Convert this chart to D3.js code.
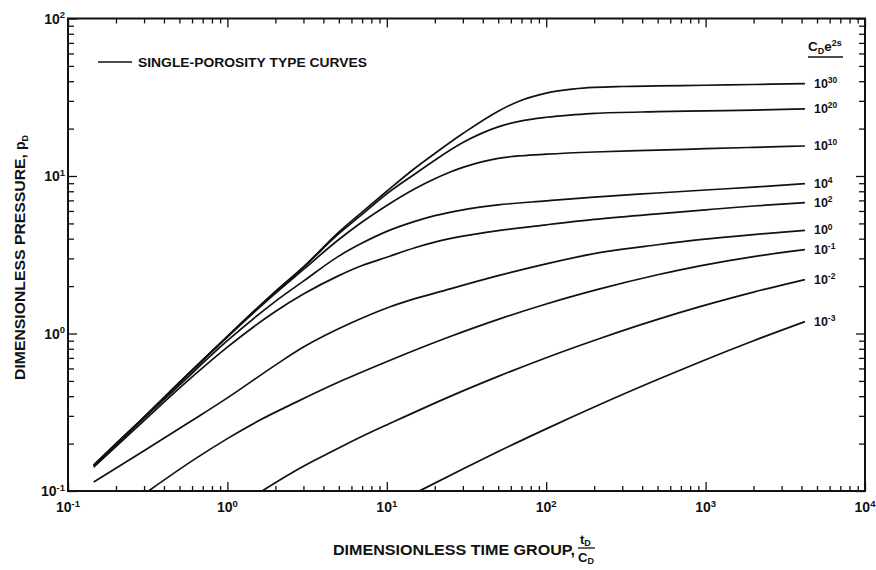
<!DOCTYPE html>
<html><head><meta charset="utf-8">
<script src="https://cdn.jsdelivr.net/npm/d3@7"></script>
<style>
body{margin:0;background:#fff}
svg{display:block}
text{font-family:"Liberation Sans",Arial,Helvetica,sans-serif;font-weight:bold;fill:#111}
</style>
</head><body>
<svg id="chart" width="876" height="570"></svg>
<script>
// ---- data (tD/CD, pD) ----
const curveExponents = ["30","20","10","4","2","0","-1","-2","-3"];
const pD_1e30 = [[0.145,0.146],[0.2,0.2],[0.3,0.295],[0.5,0.49],[1,0.96],[2,1.85],[3,2.65],[5,4.4],[7,5.9],[10,8.0],[15,11.2],[20,13.9],[30,18.6],[50,25.8],[70,30.3],[100,33.6],[150,35.7],[200,36.5],[300,37.0],[500,37.3],[1000,37.7],[2000,38.1],[4200,38.6]];
const pD_1e20 = [[0.145,0.146],[0.2,0.2],[0.3,0.295],[0.5,0.49],[1,0.96],[2,1.84],[3,2.63],[5,4.3],[7,5.7],[10,7.7],[15,10.3],[20,12.6],[30,16.3],[50,20.5],[70,22.4],[100,23.6],[150,24.5],[200,25.0],[500,25.6],[1000,25.9],[2000,26.2],[4200,26.7]];
const pD_1e10 = [[0.145,0.145],[0.3,0.293],[0.5,0.485],[1,0.95],[2,1.8],[3,2.55],[5,3.95],[7,5.1],[10,6.5],[15,8.3],[20,9.6],[25,10.6],[30,11.35],[40,12.35],[50,12.95],[70,13.45],[100,13.75],[200,14.2],[500,14.6],[1000,14.9],[2000,15.2],[4200,15.5]];
const pD_1e4 = [[0.145,0.144],[0.3,0.29],[0.5,0.47],[1,0.9],[2,1.6],[3,2.15],[5,3.1],[7,3.75],[10,4.45],[15,5.15],[20,5.6],[30,6.1],[50,6.55],[100,6.95],[200,7.35],[500,7.8],[1000,8.15],[2000,8.5],[4200,8.94]];
const pD_1e2 = [[0.145,0.142],[0.3,0.28],[0.5,0.45],[1,0.82],[2,1.38],[3,1.78],[5,2.33],[7,2.7],[10,3.05],[15,3.5],[20,3.8],[30,4.15],[50,4.5],[100,4.9],[200,5.3],[500,5.75],[1000,6.1],[2000,6.45],[4200,6.77]];
const pD_1e0 = [[0.145,0.114],[0.3,0.18],[0.6,0.28],[1,0.39],[2,0.63],[3,0.82],[6,1.17],[10.5,1.48],[25,1.92],[50,2.33],[100,2.77],[220,3.27],[500,3.66],[920,3.94],[2000,4.25],[4200,4.52]];
const pD_1em1 = [[0.32,0.1],[0.61,0.157],[1,0.215],[1.6,0.282],[2.72,0.368],[5.33,0.506],[10.5,0.677],[25,0.957],[50,1.23],[100,1.54],[217,1.92],[500,2.36],[922,2.69],[2000,3.08],[4200,3.41]];
const pD_1em2 = [[1.65,0.1],[2.59,0.132],[3.5,0.156],[5.33,0.194],[7.5,0.23],[10.5,0.269],[25,0.399],[50,0.534],[100,0.702],[217,0.93],[500,1.229],[922,1.48],[2000,1.831],[4200,2.2]];
const pD_1em3 = [[16,0.1],[30,0.138],[50,0.178],[100,0.248],[217,0.354],[500,0.51],[922,0.66],[2000,0.9],[4200,1.19]];
const seriesData = [pD_1e30,pD_1e20,pD_1e10,pD_1e4,pD_1e2,pD_1e0,pD_1em1,pD_1em2,pD_1em3];
const xTickExps = [-1,0,1,2,3,4];
const yTickExps = [-1,0,1,2];
const legendLabel = "SINGLE-POROSITY TYPE CURVES";

// ---- layout ----
const X0 = 68, X1 = 865, Y0 = 491, Y1 = 18.5;
const svg = d3.select("#chart");
const x = d3.scaleLog().domain([0.1,1e4]).range([X0,X1]);
const y = d3.scaleLog().domain([0.1,100]).range([Y0,Y1]);

function minorVals(lo, hi){ const v=[]; for(let e=lo;e<hi;e++) for(let k=2;k<=9;k++) v.push(k*Math.pow(10,e)); return v; }
const xMajor = xTickExps.map(e=>Math.pow(10,e));
const yMajor = yTickExps.map(e=>Math.pow(10,e));
const xMinor = minorVals(-1,4), yMinor = minorVals(-1,2);

function styleAxis(g){ g.select(".domain").remove(); g.selectAll("line").attr("stroke","#111").attr("stroke-width",1.3); }
svg.append("g").attr("transform",`translate(0,${Y0})`).call(d3.axisTop(x).tickValues(xMinor).tickSize(5).tickFormat("")).call(styleAxis);
svg.append("g").attr("transform",`translate(0,${Y0})`).call(d3.axisTop(x).tickValues(xMajor).tickSize(9).tickFormat("")).call(styleAxis);
svg.append("g").attr("transform",`translate(0,${Y1})`).call(d3.axisBottom(x).tickValues(xMinor).tickSize(5).tickFormat("")).call(styleAxis);
svg.append("g").attr("transform",`translate(0,${Y1})`).call(d3.axisBottom(x).tickValues(xMajor).tickSize(9).tickFormat("")).call(styleAxis);
svg.append("g").attr("transform",`translate(${X0},0)`).call(d3.axisRight(y).tickValues(yMinor).tickSize(6).tickFormat("")).call(styleAxis);
svg.append("g").attr("transform",`translate(${X0},0)`).call(d3.axisRight(y).tickValues(yMajor).tickSize(9).tickFormat("")).call(styleAxis);
svg.append("g").attr("transform",`translate(${X1},0)`).call(d3.axisLeft(y).tickValues(yMinor).tickSize(6).tickFormat("")).call(styleAxis);
svg.append("g").attr("transform",`translate(${X1},0)`).call(d3.axisLeft(y).tickValues(yMajor).tickSize(9).tickFormat("")).call(styleAxis);
svg.append("rect").attr("x",X0).attr("y",Y1).attr("width",X1-X0).attr("height",Y0-Y1)
  .attr("fill","none").attr("stroke","#111").attr("stroke-width",2);

function powLabel(sel, exp, size){
  sel.append("tspan").text("10").attr("font-size",size);
  sel.append("tspan").text(exp).attr("font-size",size*0.68).attr("dy",-size*0.38);
}
xTickExps.forEach(e=>{
  const t = svg.append("text").attr("x",x(Math.pow(10,e))).attr("y",Y0+21).attr("text-anchor","middle");
  powLabel(t,String(e),14);
});
yTickExps.forEach(e=>{
  const t = svg.append("text").attr("x",X0-3).attr("y",y(Math.pow(10,e))+5).attr("text-anchor","end");
  powLabel(t,String(e),14);
});

const line = d3.line().x(d=>x(d[0])).y(d=>y(d[1])).curve(d3.curveMonotoneX);
seriesData.forEach((s,i)=>{
  svg.append("path").datum(s).attr("d",line).attr("fill","none").attr("stroke","#111").attr("stroke-width",1.7);
  const last = s[s.length-1];
  const t = svg.append("text").attr("x",x(last[0])+9).attr("y",y(last[1])+4);
  powLabel(t,curveExponents[i],12.5);
});

const h = svg.append("text").attr("x",808).attr("y",51);
h.append("tspan").text("C").attr("font-size",13.5);
h.append("tspan").text("D").attr("font-size",9).attr("dy",3);
h.append("tspan").text("e").attr("font-size",13.5).attr("dy",-3);
h.append("tspan").text("2s").attr("font-size",9).attr("dy",-5);
svg.append("line").attr("x1",808).attr("x2",843).attr("y1",57).attr("y2",57).attr("stroke","#111").attr("stroke-width",1.5);

svg.append("line").attr("x1",98).attr("x2",132).attr("y1",62).attr("y2",62).attr("stroke","#111").attr("stroke-width",1.6);
svg.append("text").attr("x",138).attr("y",66.5).attr("font-size",12.5)
  .attr("textLength",229).attr("lengthAdjust","spacingAndGlyphs").text(legendLabel);

const yt = svg.append("text").attr("transform","translate(25,380) rotate(-90)").attr("font-size",14);
yt.append("tspan").text("DIMENSIONLESS PRESSURE,").attr("textLength",226).attr("lengthAdjust","spacingAndGlyphs");
yt.append("tspan").text(" p");
yt.append("tspan").text("D").attr("font-size",9).attr("dy",3);

svg.append("text").attr("x",333).attr("y",555).attr("font-size",14)
  .attr("textLength",242).attr("lengthAdjust","spacingAndGlyphs").text("DIMENSIONLESS TIME GROUP,");
const ft = svg.append("text").attr("x",580).attr("y",544).attr("font-size",13);
ft.append("tspan").text("t");
ft.append("tspan").text("D").attr("font-size",9).attr("dy",2);
svg.append("line").attr("x1",578).attr("x2",595).attr("y1",548).attr("y2",548).attr("stroke","#111").attr("stroke-width",1.3);
const fc = svg.append("text").attr("x",578).attr("y",562).attr("font-size",13);
fc.append("tspan").text("C");
fc.append("tspan").text("D").attr("font-size",9).attr("dy",2);
</script>
</body></html>
